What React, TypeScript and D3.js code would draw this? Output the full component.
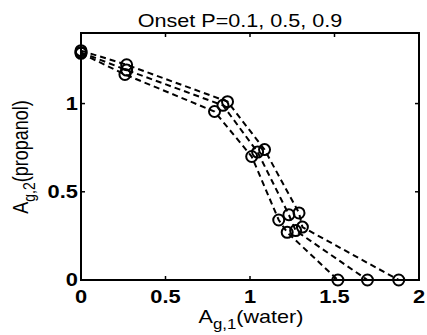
import React, { useEffect, useRef } from 'react';
import * as d3 from 'd3';

const titleText = 'Onset P=0.1, 0.5, 0.9';
const xTicks = [0, 0.5, 1, 1.5, 2];
const yTicks = [0, 0.5, 1];

// three onset curves (P = 0.1, 0.5, 0.9)
const seriesX = [
  [0, 0.26, 0.79, 1.01, 1.17, 1.22, 1.52],
  [0, 0.27, 0.84, 1.045, 1.23, 1.27, 1.695],
  [0, 0.27, 0.867, 1.086, 1.29, 1.31, 1.88],
];
const seriesY = [
  [1.285, 1.165, 0.955, 0.70, 0.34, 0.27, 0],
  [1.29, 1.19, 0.99, 0.725, 0.37, 0.28, 0],
  [1.30, 1.22, 1.011, 0.739, 0.38, 0.30, 0],
];

export default function App() {
  const svgRef = useRef<SVGSVGElement>(null);

  useEffect(() => {
    if (!svgRef.current) return;
    const W = 427, H = 335;
    const margin = { top: 33, right: 8, bottom: 55, left: 81 };
    const width = W - margin.left - margin.right;
    const height = H - margin.top - margin.bottom;

    d3.select(svgRef.current).selectAll('*').remove();
    const root = d3.select(svgRef.current).attr('width', W).attr('height', H);
    const svg = root.append('g').attr('transform', `translate(${margin.left},${margin.top})`);

    const x = d3.scaleLinear().domain([0, 2]).range([0, width]);
    const y = d3.scaleLinear().domain([0, 1.4]).range([height, 0]);
    const font = 'Liberation Sans, Arial, Helvetica, sans-serif';
    const sx = 1.2; // the picture's text is a little wider than tall

    // box
    svg.append('rect').attr('width', width).attr('height', height)
      .attr('fill', 'none').attr('stroke', '#000').attr('stroke-width', 2);

    // ticks (inward, all sides)
    const tl = 4;
    xTicks.forEach(t => {
      svg.append('line').attr('x1', x(t)).attr('x2', x(t)).attr('y1', height).attr('y2', height - tl).attr('stroke', '#000').attr('stroke-width', 1.5);
      svg.append('line').attr('x1', x(t)).attr('x2', x(t)).attr('y1', 0).attr('y2', tl).attr('stroke', '#000').attr('stroke-width', 1.5);
      svg.append('text').attr('transform', `translate(${x(t)},${height + 23}) scale(1.25,1)`).attr('text-anchor', 'middle')
        .style('font-family', font).style('font-size', '17.5px').style('font-weight', 'bold').text(String(t));
    });
    yTicks.forEach(t => {
      svg.append('line').attr('x1', 0).attr('x2', tl).attr('y1', y(t)).attr('y2', y(t)).attr('stroke', '#000').attr('stroke-width', 1.5);
      svg.append('line').attr('x1', width).attr('x2', width - tl).attr('y1', y(t)).attr('y2', y(t)).attr('stroke', '#000').attr('stroke-width', 1.5);
      svg.append('text').attr('transform', `translate(-3,${y(t) + 6}) scale(1.25,1)`).attr('text-anchor', 'end')
        .style('font-family', font).style('font-size', '17.5px').style('font-weight', 'bold').text(String(t));
    });

    const line = d3.line<[number, number]>().x(d => x(d[0])).y(d => y(d[1]));
    seriesX.forEach((xs, i) => {
      const pts: [number, number][] = xs.map((v, j) => [v, seriesY[i][j]]);
      svg.append('path').attr('d', line(pts)!).attr('fill', 'none').attr('stroke', '#000')
        .attr('stroke-width', 2).attr('stroke-dasharray', '6,4');
      svg.selectAll(null).data(pts).enter().append('circle')
        .attr('cx', d => x(d[0])).attr('cy', d => y(d[1])).attr('r', 5.5)
        .attr('fill', 'none').attr('stroke', '#000').attr('stroke-width', 2);
    });

    // title
    root.append('text').attr('transform', `translate(240,27) scale(${sx},1)`).attr('text-anchor', 'middle')
      .style('font-family', font).style('font-size', '18px').text(titleText);

    // x label
    const xl = root.append('text').attr('transform', `translate(251,323) scale(${sx},1)`).attr('text-anchor', 'middle')
      .style('font-family', font).style('font-size', '18px');
    xl.append('tspan').text('A');
    xl.append('tspan').attr('dy', 6).style('font-size', '14px').text('g,1');
    xl.append('tspan').attr('dy', -6).text('(water)');

    // y label
    const yl = root.append('text').attr('transform', `translate(28,157) scale(${sx},1) rotate(-90)`)
      .attr('text-anchor', 'middle').style('font-family', font).style('font-size', '18px');
    yl.append('tspan').text('A');
    yl.append('tspan').attr('dy', 6).style('font-size', '14px').text('g,2');
    yl.append('tspan').attr('dy', -6).text('(propanol)');
  }, []);

  return <svg ref={svgRef} style={{ position: 'absolute', left: 0, top: 0, background: '#fff' }} />;
}
